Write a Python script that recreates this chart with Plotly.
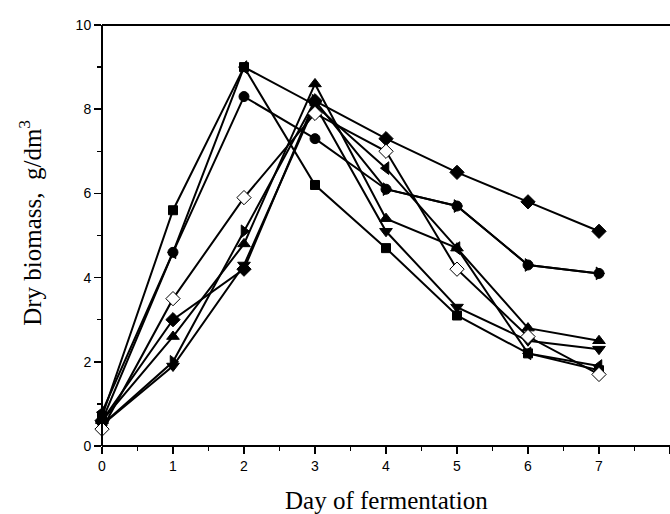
import plotly.graph_objects as go

days = [0, 1, 2, 3, 4, 5, 6, 7]

sq = [0.7, 5.6, 9.0, 6.2, 4.7, 3.1, 2.2, 1.8]
circ = [0.6, 4.6, 8.3, 7.3, 6.1, 5.7, 4.3, 4.1]
tri_up = [0.6, 2.6, 4.8, 8.6, 5.4, 4.7, 2.8, 2.5]
tri_down = [0.5, 1.9, 4.3, 8.1, 5.1, 3.3, 2.5, 2.3]
diam = [0.6, 3.0, 4.2, 8.2, 7.3, 6.5, 5.8, 5.1]
tri_left = [0.8, 4.6, 9.0, 8.1, 6.6, 4.7, 2.2, 1.9]
tri_right = [0.5, 2.0, 5.1, 8.2, 6.1, 5.7, 4.3, 4.1]
hollow = [0.4, 3.5, 5.9, 7.9, 7.0, 4.2, 2.6, 1.7]

x_ticks = [0, 1, 2, 3, 4, 5, 6, 7, 8]
y_ticks = [0, 2, 4, 6, 8, 10]

series = [
    (sq, "square", 9, "black"),
    (circ, "circle", 10, "black"),
    (tri_up, "triangle-up", 11, "black"),
    (tri_down, "triangle-down", 11, "black"),
    (diam, "diamond", 11, "black"),
    (tri_left, "triangle-left", 11, "black"),
    (tri_right, "triangle-right", 11, "black"),
    (hollow, "diamond", 11, "white"),
]

fig = go.Figure()
for vals, sym, size, fill in series:
    fig.add_trace(go.Scatter(
        x=days, y=vals, mode="lines+markers",
        line=dict(color="black", width=2),
        marker=dict(symbol=sym, size=size, color=fill,
                    line=dict(color="black", width=1)),
        showlegend=False, cliponaxis=False,
    ))

axis_font = dict(family="Liberation Sans, Arial", size=14, color="black")

fig.update_xaxes(
    range=[0, 8], tickvals=x_ticks, showgrid=False, zeroline=False,
    showline=False,
    ticks="outside", ticklen=7, tickwidth=1.5, tickcolor="black",
    minor=dict(ticks="outside", ticklen=4, dtick=0.5, tickcolor="black",
               tickwidth=1.5, showgrid=False),
    tickfont=axis_font,
)
fig.update_yaxes(
    range=[0, 10], tickvals=y_ticks, showgrid=False, zeroline=False,
    showline=False,
    ticks="outside", ticklen=7, tickwidth=1.5, tickcolor="black",
    minor=dict(ticks="outside", ticklen=4, dtick=1, tickcolor="black",
               tickwidth=1.5, showgrid=False),
    tickfont=axis_font,
)

# frame: bottom, left and top lines (the right side is cut off in the original)
frame = dict(color="black", width=2)
fig.add_shape(type="line", xref="paper", yref="paper", x0=0, x1=1, y0=0, y1=0, line=frame, layer="above")
fig.add_shape(type="line", xref="paper", yref="paper", x0=0, x1=1, y0=1, y1=1, line=frame, layer="above")
fig.add_shape(type="line", xref="paper", yref="paper", x0=0, x1=0, y0=0, y1=1, line=frame, layer="above")

title_font = dict(family="Liberation Serif, Times New Roman", size=25, color="black")
fig.add_annotation(text="Day of fermentation", xref="paper", yref="paper",
                   x=0.5, y=0, yshift=-54, xanchor="center", yanchor="middle",
                   showarrow=False, font=title_font)
fig.add_annotation(text="Dry biomass,  g/dm<sup>3</sup>", xref="paper", yref="paper",
                   x=0, xshift=-72, y=0.53, xanchor="center", yanchor="middle",
                   textangle=-90, showarrow=False, font=title_font)

fig.update_layout(
    width=670, height=514,
    margin=dict(l=102, r=0, t=25, b=68),
    plot_bgcolor="white", paper_bgcolor="white",
)

fig.write_html("out.html", config={"displayModeBar": False, "staticPlot": True},
               post_script="document.body.style.margin='0';document.body.style.padding='0';document.body.style.overflow='hidden';")
